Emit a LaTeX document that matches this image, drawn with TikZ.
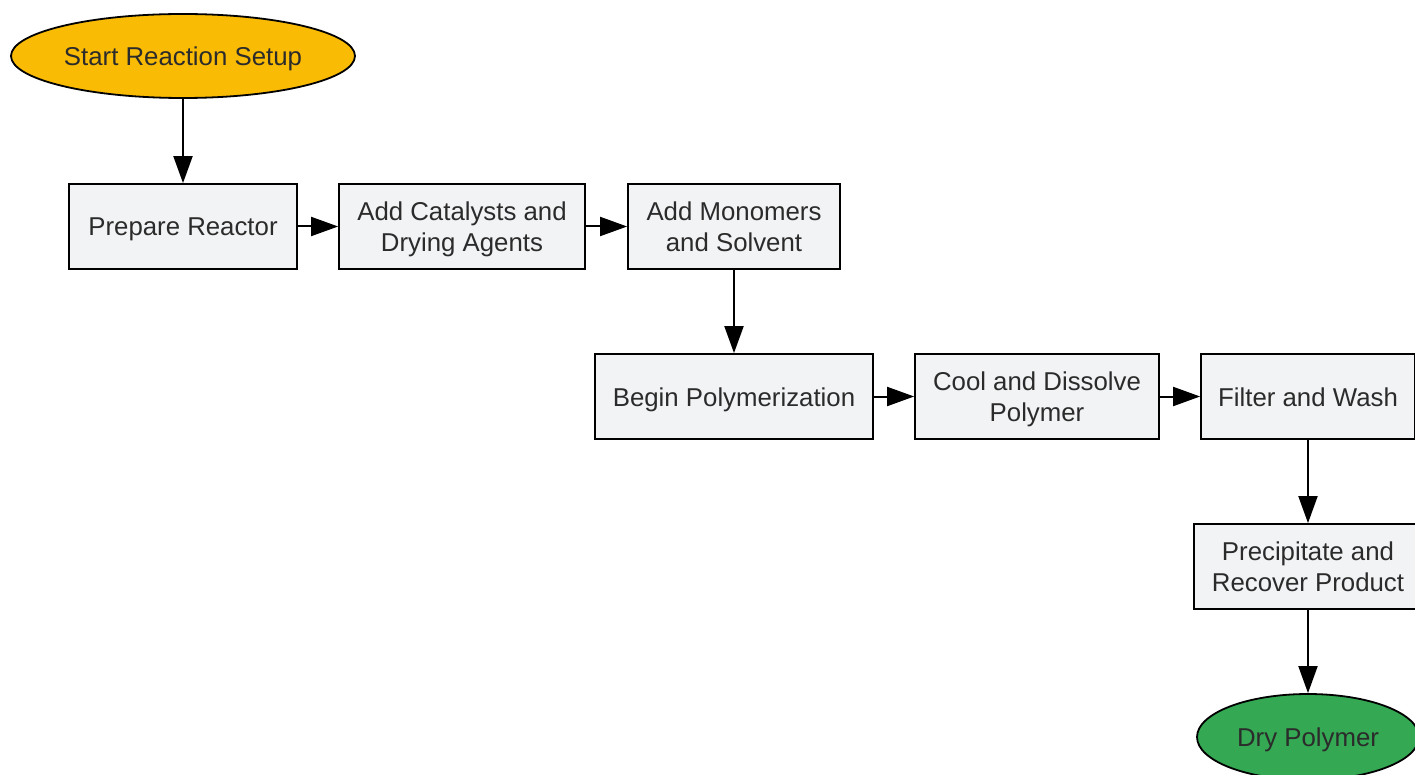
\documentclass[tikz,border=0pt]{standalone}
\usepackage{fontspec}
\setmainfont{Liberation Sans}
\usetikzlibrary{shapes.geometric,arrows.meta}
\definecolor{boxfill}{HTML}{F2F3F5}
\definecolor{startfill}{HTML}{FABB05}
\definecolor{endfill}{HTML}{34A853}
\definecolor{txt}{HTML}{2B2B2B}
\newcommand\myline[1]{\rule[-6pt]{0pt}{31pt}#1}
\tikzset{
  stepbox/.style={draw=black, line width=1.8pt, fill=boxfill, rectangle, inner sep=0pt,
    minimum height=85pt, align=center, text=txt,
    font=\fontsize{25.8}{31}\selectfont},
  terminal/.style={draw=black, line width=1.8pt, ellipse, inner sep=0pt,
    align=center, text=txt,
    font=\fontsize{25.8}{31}\selectfont},
  conn/.style={draw=black, line width=2pt, -{Triangle[length=27pt,width=19pt]}}
}
\begin{document}
\begin{tikzpicture}[x=1pt,y=-1pt]
\useasboundingbox (0,0) rectangle (1415,775);
\node[terminal, fill=startfill, minimum width=344pt, minimum height=84pt] (start) at (183,56) {\myline{Start Reaction Setup}};
\node[stepbox, minimum width=228pt] (prep) at (183,226.5) {\myline{Prepare Reactor}};
\node[stepbox, minimum width=246pt] (cat) at (462,226.5) {\myline{Add Catalysts and}\\\myline{Drying Agents}};
\node[stepbox, minimum width=212pt] (mono) at (734,226.5) {\myline{Add Monomers}\\\myline{and Solvent}};
\node[stepbox, minimum width=278pt] (poly) at (734,396.5) {\myline{Begin Polymerization}};
\node[stepbox, minimum width=244pt] (cool) at (1037,396.5) {\myline{Cool and Dissolve}\\\myline{Polymer}};
\node[stepbox, minimum width=214pt] (filt) at (1308,396.5) {\myline{Filter and Wash}};
\node[stepbox, minimum width=228pt] (prec) at (1308,566.5) {\myline{Precipitate and}\\\myline{Recover Product}};
\node[terminal, fill=endfill, minimum width=222pt, minimum height=86pt] (dry) at (1308,737) {\myline{Dry Polymer}};
\draw[conn] (start) -- (prep);
\draw[conn] (prep) -- (cat);
\draw[conn] (cat) -- (mono);
\draw[conn] (mono) -- (poly);
\draw[conn] (poly) -- (cool);
\draw[conn] (cool) -- (filt);
\draw[conn] (filt) -- (prec);
\draw[conn] (prec) -- (dry);
\end{tikzpicture}
\end{document}
